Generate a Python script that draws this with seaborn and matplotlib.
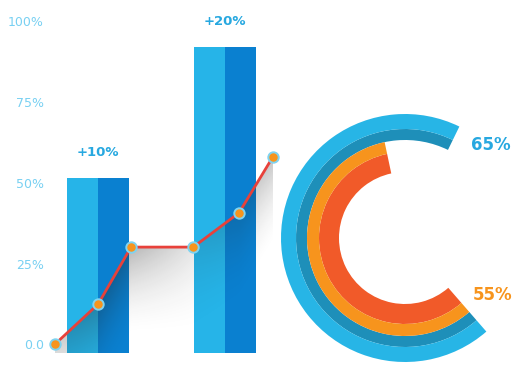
import numpy as np
import matplotlib
matplotlib.use("Agg")
import matplotlib.pyplot as plt
import seaborn as sns

# ---- data -------------------------------------------------------------
bar_pos = [1.0, 3.0]
bar_values = [51.5, 92.0]
bar_labels = ["+10%", "+20%"]

line_x = [0.32, 1.0, 1.52, 2.5, 3.22, 3.75]
line_y = [0.0, 12.4, 30.1, 30.1, 40.7, 57.9]

y_ticks = [0, 25, 50, 75, 100]
y_tick_labels = ["0.0", "25%", "50%", "75%", "100%"]

ring_values = [65, 55]
ring_labels = ["65%", "55%"]

# ---- style ------------------------------------------------------------
sns.set_theme(style="white")
plt.rcParams["font.family"] = ["DejaVu Sans"]

LIGHT_BAR = "#26b4e8"
DARK_BAR = "#0a80d0"
LINE_RED = "#e8413a"
MARK_ORANGE = "#f7941d"
MARK_RING = "#7fd3f0"
TICK_BLUE = "#78d0f2"
LABEL_BLUE = "#27a8e0"
RING_COLORS = [("#27b5e6", "#1e8fb9"), ("#f7941d", "#f15a29")]
RING_TEXT = ["#27a8e0", "#f7941d"]

W, H = 514, 365
fig = plt.figure(figsize=(W / 100, H / 100), dpi=100)
fig.patch.set_facecolor("white")

# ---- bar + line panel ---------------------------------------------------
px_per_unit = 63.5
ax = fig.add_axes([48 / W, 0, 232 / W, 1])
ax.set_facecolor("none")
xlim = (1 + (48 - 98) / px_per_unit, 1 + (280 - 98) / px_per_unit)
ylim = (-6.4, 106.6)

bar_bottom = -2.6
half = 0.49
for c, v in zip(bar_pos, bar_values):
    ax.bar(c - half / 2, v - bar_bottom, width=half, bottom=bar_bottom,
           color=LIGHT_BAR, linewidth=0, zorder=2)
    ax.bar(c + half / 2, v - bar_bottom, width=half, bottom=bar_bottom,
           color=DARK_BAR, linewidth=0, zorder=2)

# soft shadow falling below the line, strongest just after steep rises
gx = np.linspace(line_x[0], line_x[-1], 500)
gy = np.linspace(bar_bottom, max(line_y) + 1, 400)
XX, YY = np.meshgrid(gx, gy)
yl = np.interp(XX, line_x, line_y)
d = yl - YY
depth = 28.0
strength = np.interp(XX, line_x, [0.6, 1.0, 1.0, 0.35, 0.6, 0.8])
alpha = np.where(d >= 0, 0.32 * strength * np.clip(1 - d / depth, 0, 1) ** 1.8, 0.0)
rgba = np.zeros(XX.shape + (4,))
rgba[..., :3] = 0.12
rgba[..., 3] = alpha
ax.imshow(rgba, extent=[gx[0], gx[-1], gy[0], gy[-1]], origin="lower",
          aspect="auto", interpolation="bilinear", zorder=3)

sns.lineplot(x=line_x, y=line_y, ax=ax, color=LINE_RED, linewidth=2,
             marker="o", markersize=7.5, markerfacecolor=MARK_ORANGE,
             markeredgecolor=MARK_RING, markeredgewidth=1.4, zorder=4)
for ln in ax.lines:
    ln.set_clip_on(False)

for c, v, t in zip(bar_pos, bar_values, bar_labels):
    ax.annotate(t, (c, v), xytext=(0, 16), textcoords="offset points",
                ha="center", va="baseline", fontsize=9.5, fontweight="bold",
                color=LABEL_BLUE)

ax.set_xlim(*xlim)
ax.set_ylim(*ylim)
ax.set_xticks([])
ax.set_yticks(y_ticks)
ax.set_yticklabels(y_tick_labels)
ax.tick_params(axis="y", length=0, pad=3, labelsize=9, labelcolor=TICK_BLUE)
for s in ax.spines.values():
    s.set_visible(False)

# ---- concentric progress rings -----------------------------------------
cx, cy, R = 405, 238, 130
pax = fig.add_axes([(cx - R) / W, (H - cy - R) / H, 2 * R / W, 2 * R / H],
                   projection="polar")
pax.set_facecolor("none")
pax.set_theta_offset(np.deg2rad(-49))
pax.set_theta_direction(-1)
pax.set_ylim(0, R)
deg_per_pct = 3.8
ring_radii = [(98, 109, 124), (66, 86, 98)]
for v, (inner, mid, outer), (c_out, c_in) in zip(ring_values, ring_radii, RING_COLORS):
    span = np.deg2rad(v * deg_per_pct)
    pax.bar(0, mid - inner, width=span, bottom=inner, align="edge",
            color=c_in, linewidth=0)
    pax.bar(0, outer - mid, width=span, bottom=mid, align="edge",
            color=c_out, linewidth=0)
pax.set_axis_off()

fig.text(471 / W, 1 - 150 / H, ring_labels[0], ha="left", va="baseline",
         fontsize=12, fontweight="bold", color=RING_TEXT[0])
fig.text(473 / W, 1 - 300 / H, ring_labels[1], ha="left", va="baseline",
         fontsize=12, fontweight="bold", color=RING_TEXT[1])

fig.savefig("out.png", dpi=100, facecolor="white")
